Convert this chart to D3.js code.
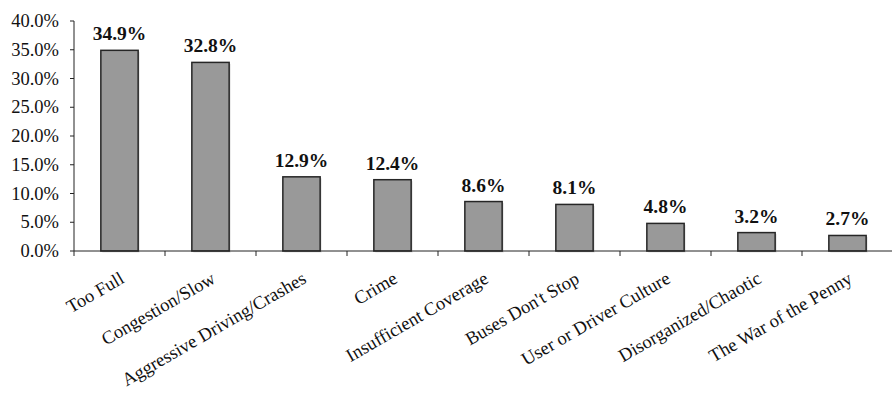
<!DOCTYPE html>
<html>
<head>
<meta charset="utf-8">
<script src="https://cdn.jsdelivr.net/npm/d3@7"></script>
<style>
  body { margin: 0; background: #fff; }
  text { font-family: "Liberation Serif", "Times New Roman", serif; fill: #111; }
</style>
</head>
<body>
<script>
var categories = ["Too Full", "Congestion/Slow", "Aggressive Driving/Crashes", "Crime",
                  "Insufficient Coverage", "Buses Don't Stop", "User or Driver Culture",
                  "Disorganized/Chaotic", "The War of the Penny"];
var shares = [34.9, 32.8, 12.9, 12.4, 8.6, 8.1, 4.8, 3.2, 2.7];
var yTicks = [0, 5, 10, 15, 20, 25, 30, 35, 40];

var width = 892, height = 396;
var plotLeft = 74, plotRight = 892, plotTop = 21, plotBottom = 251;

var svg = d3.select("body").append("svg")
            .attr("width", width)
            .attr("height", height);

var x = d3.scaleBand()
          .domain(categories)
          .range([plotLeft, plotLeft + 91 * 9])
          .paddingInner(0.59)
          .paddingOuter(0.295);

var y = d3.scaleLinear()
          .domain([0, 40])
          .range([plotBottom, plotTop]);

// y axis
svg.append("line")
   .attr("x1", plotLeft).attr("x2", plotLeft)
   .attr("y1", y(40)).attr("y2", y(0))
   .attr("stroke", "#222").attr("stroke-width", 1);

svg.selectAll(".ytick")
   .data(yTicks)
   .enter()
   .append("line")
   .attr("x1", plotLeft - 4).attr("x2", plotLeft)
   .attr("y1", function(d) { return y(d); })
   .attr("y2", function(d) { return y(d); })
   .attr("stroke", "#222");

svg.selectAll(".ylabel")
   .data(yTicks)
   .enter()
   .append("text")
   .attr("x", plotLeft - 15)
   .attr("y", function(d) { return y(d) + 6; })
   .attr("text-anchor", "end")
   .style("font-size", "18.5px")
   .text(function(d) { return d.toFixed(1) + "%"; });

// bars (with light shadow)
var bars = svg.selectAll(".bar")
              .data(shares)
              .enter();

bars.append("rect")
    .attr("x", function(d, i) { return x(categories[i]) + 1.5; })
    .attr("y", function(d) { return y(d) + 1.5; })
    .attr("width", x.bandwidth())
    .attr("height", function(d) { return y(0) - y(d); })
    .attr("fill", "#000")
    .attr("opacity", 0.12);

bars.append("rect")
    .attr("x", function(d, i) { return x(categories[i]); })
    .attr("y", function(d) { return y(d); })
    .attr("width", x.bandwidth())
    .attr("height", function(d) { return y(0) - y(d); })
    .attr("fill", "#999999")
    .attr("stroke", "#262626")
    .attr("stroke-width", 1.5);

bars.append("text")
    .attr("x", function(d, i) { return x(categories[i]) + x.bandwidth() / 2; })
    .attr("y", function(d) { return y(d) - 10; })
    .attr("text-anchor", "middle")
    .style("font-size", "19.5px")
    .style("font-weight", "bold")
    .text(function(d) { return d.toFixed(1) + "%"; });

// x axis
svg.append("line")
   .attr("x1", plotLeft).attr("x2", plotRight)
   .attr("y1", y(0)).attr("y2", y(0))
   .attr("stroke", "#222");

var tickPos = d3.range(categories.length + 1).map(function(i) { return plotLeft + 91 * i; });
svg.selectAll(".xtick")
   .data(tickPos)
   .enter()
   .append("line")
   .attr("x1", function(d) { return d; })
   .attr("x2", function(d) { return d; })
   .attr("y1", y(0)).attr("y2", y(0) + 5)
   .attr("stroke", "#222");

svg.selectAll(".xlabel")
   .data(categories)
   .enter()
   .append("text")
   .attr("text-anchor", "end")
   .style("font-size", "18.5px")
   .attr("transform", function(d) {
       var cx = x(d) + x.bandwidth() / 2 + 6;
       return "translate(" + cx + "," + (y(0) + 31) + ") rotate(-30)";
   })
   .text(function(d) { return d; });
</script>
</body>
</html>
